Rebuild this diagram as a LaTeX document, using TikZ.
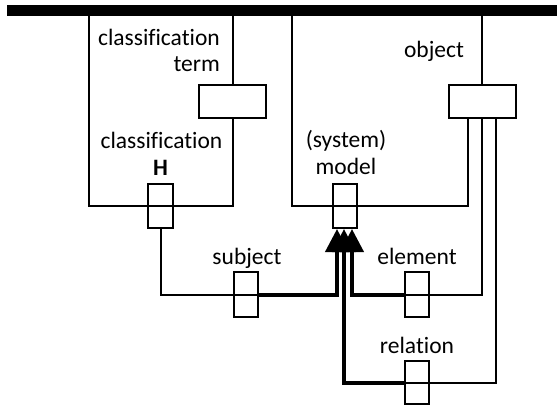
\documentclass[tikz,border=0pt]{standalone}
\usepackage{fontspec}
\setmainfont{Carlito}[Ligatures=NoCommon]
\usetikzlibrary{arrows.meta,calc}
\begin{document}
\begin{tikzpicture}[x=1pt,y=-1pt,
  thin line/.style={line width=2pt},
  thick line/.style={line width=4pt,-{Triangle[length=23pt,width=23pt]}},
  port/.style={draw,line width=2pt,inner sep=0pt,minimum width=24pt,minimum height=44pt},
  wide/.style={draw,line width=2pt,fill=white,inner sep=0pt,minimum width=67pt,minimum height=33pt},
  lbl/.style={inner sep=0pt,font=\fontsize{23.5}{26}\selectfont}]
\useasboundingbox (0,0) rectangle (557,405);
% top bar
\fill (7,5) rectangle (557,16);
% big boxes
\draw[thin line] (89,16) -- (89,206) -- (233,206) -- (233,16);
\draw[thin line] (292,16) -- (292,206) -- (468,206) -- (468,118);
\draw[thin line] (482,16) -- (482,85);
% nodes
\node[wide] (term) at (232.5,101.5) {};
\node[wide] (object) at (482,101.5) {};
\node[port,minimum width=25pt] (H) at (160.5,206) {};
\node[port] (model) at (345,206) {};
\node[port,minimum height=45pt] (subject) at (245.5,294.5) {};
\node[port,minimum height=45pt] (element) at (417,294.5) {};
\node[port,minimum height=43pt] (relation) at (417,382.5) {};
% labels
\node[lbl,anchor=base east] (l1) at (220,45) {classification};
\node[lbl,anchor=base east] (l2) at (220,71) {term};
\node[lbl,anchor=base] (l3) at (161.5,148) {classification};
\node[lbl,anchor=base] (l4) at (160.5,175) {\textbf{H}};
\node[lbl,anchor=base] (l5) at (434,57) {object};
\node[lbl,anchor=base] (l6) at (346,147) {(system)};
\node[lbl,anchor=base] (l7) at (346,174) {model};
\node[lbl,anchor=base] (l8) at (247,264) {subject};
\node[lbl,anchor=base] (l9) at (417,264) {element};
\node[lbl,anchor=base] (l10) at (417,353) {relation};
% tips
\coordinate (t1) at ($(model.south)+(-8,0)$);
\coordinate (t2) at ($(model.south)+(-1,0)$);
\coordinate (t3) at ($(model.south)+(7,0)$);
\coordinate (o2) at (object.south);
\coordinate (o3) at ($(object.south)+(14,0)$);
% thin connectors
\draw[thin line] (H.south) |- (subject.east);
\draw[thin line] (o2) |- (element.west);
\draw[thin line] (o3) |- (relation.west);
% thick connectors
\draw[thick line] (subject.east) -| (t1);
\draw[thick line] (relation.west) -| (t2);
\draw[thick line] (element.west) -| (t3);
\end{tikzpicture}
\end{document}
